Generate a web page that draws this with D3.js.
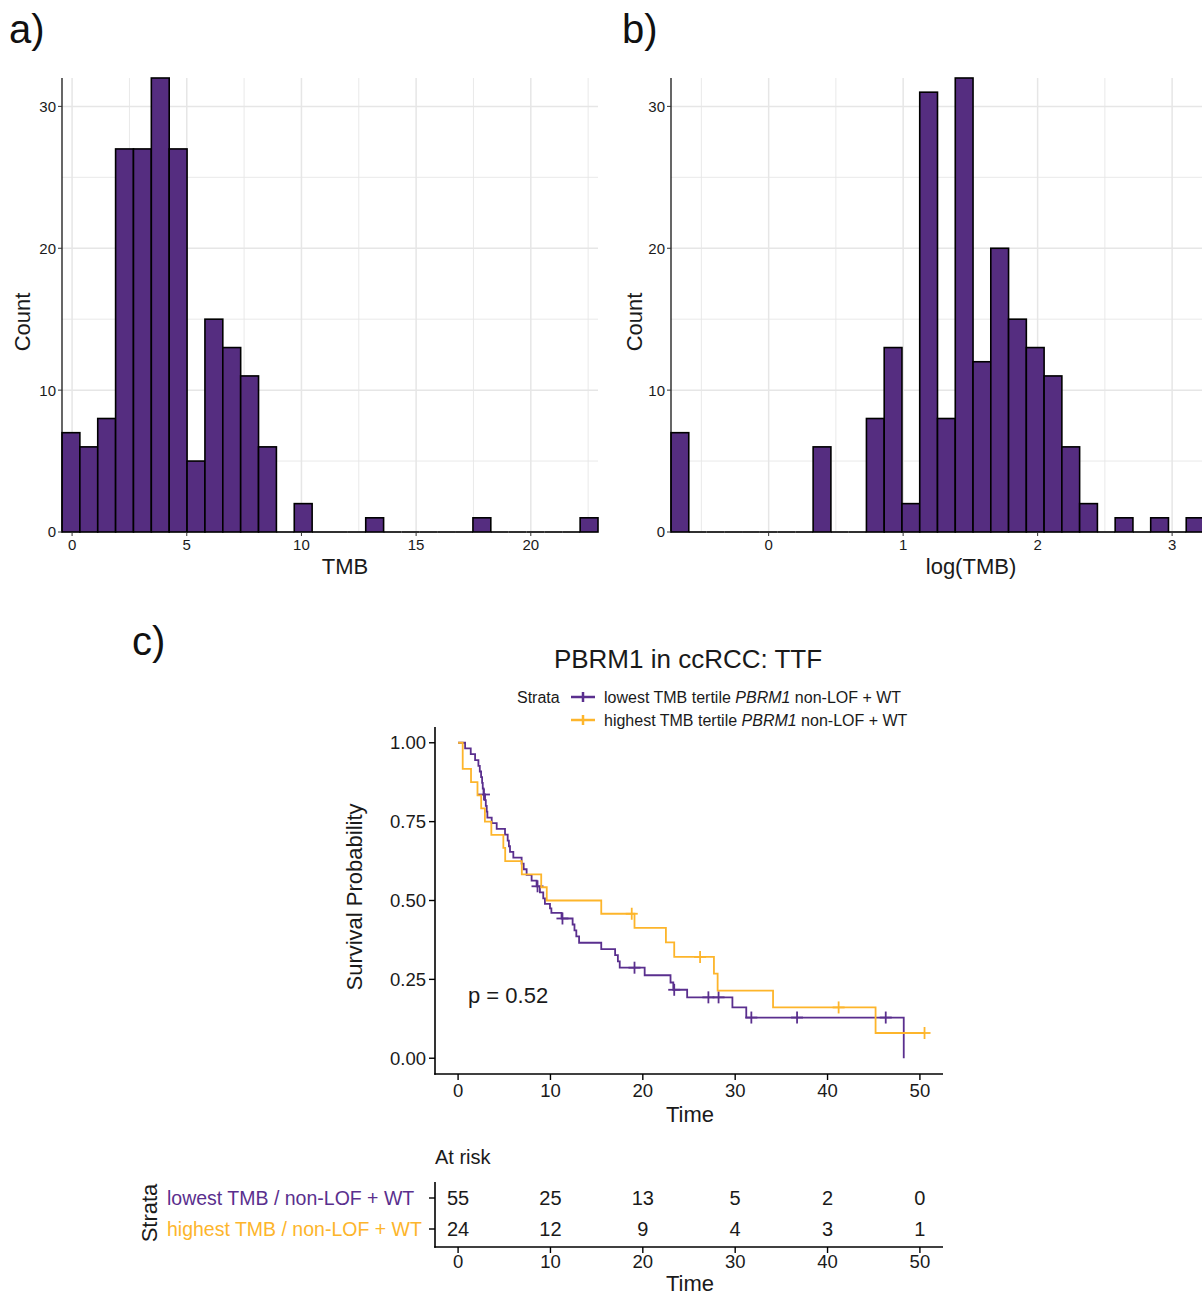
<!DOCTYPE html>
<html>
<head>
<meta charset="utf-8">
<script src="https://cdn.jsdelivr.net/npm/d3@7"></script>
<style>
  html, body { margin: 0; padding: 0; background: #fff; }
  svg { display: block; font-family: "Liberation Sans", Arial, Helvetica, sans-serif; }
</style>
</head>
<body>
<svg id="chart" width="1202" height="1297"></svg>
<script>
// ---------------- DATA ----------------
// Panel a: histogram of TMB (30 bins)
const tmbBinStart = -0.44;
const tmbBinWidth = 0.779;
const tmbCounts = [7, 6, 8, 27, 27, 32, 27, 5, 15, 13, 11, 6, 0, 2, 0, 0, 0, 1, 0, 0, 0, 0, 0, 1, 0, 0, 0, 0, 0, 1];
const tmbTicks = [0, 5, 10, 15, 20];
const tmbMinor = [2.5, 7.5, 12.5, 17.5, 22.5];

// Panel b: histogram of log(TMB) (30 bins)
const logBinStart = -0.726;
const logBinWidth = 0.1321;
const logCounts = [7, 0, 0, 0, 0, 0, 0, 0, 6, 0, 0, 8, 13, 2, 31, 8, 32, 12, 20, 15, 13, 11, 6, 2, 0, 1, 0, 1, 0, 1];
const logTicks = [0, 1, 2, 3];
const logMinor = [-0.5, 0.5, 1.5, 2.5];

const countTicks = [0, 10, 20, 30];
const countMinor = [5, 15, 25];

// Panel c: Kaplan-Meier step curves (time of step, survival after step)
const lowTime = [0, 0.76, 1.37, 1.84, 2.2, 2.35, 2.49, 2.6, 2.67, 2.75, 2.92, 3.0, 3.1, 3.17, 3.64, 4.18, 5.08, 5.37, 5.5, 5.62, 5.98,
                 6.88, 7.1, 7.42, 7.96, 8.5, 8.86, 9.22, 9.4, 9.95, 10.1, 11.2, 12.4, 12.6, 12.8, 13.1, 15.5, 17.0, 17.3, 17.5,
                 20.2, 23.0, 23.3, 24.8, 29.7, 31.2, 48.25];
const lowSurv = [1.0, 0.982, 0.964, 0.945, 0.927, 0.909, 0.891, 0.873, 0.855, 0.836, 0.818, 0.800, 0.782, 0.763, 0.745, 0.727, 0.709, 0.690, 0.672, 0.654, 0.636,
                 0.617, 0.599, 0.581, 0.563, 0.545, 0.526, 0.507, 0.489, 0.475, 0.461, 0.443, 0.424, 0.405, 0.386, 0.366, 0.346, 0.327, 0.307, 0.287,
                 0.263, 0.240, 0.217, 0.193, 0.161, 0.129, 0.0];
const lowCensor = [2.8, 8.6, 11.3, 19.1, 23.4, 27.1, 28.2, 31.75, 36.7, 46.3];

const highTime = [0, 0.5, 1.4, 2.1, 2.5, 2.9, 3.6, 4.9, 5.1, 6.9, 9.0, 9.6, 15.5, 19.1, 22.5, 23.4, 27.7, 28.1, 34.1, 45.2, 50.5];
const highSurv = [1.0, 0.917, 0.875, 0.833, 0.792, 0.750, 0.708, 0.667, 0.625, 0.583, 0.542, 0.500, 0.458, 0.413, 0.367, 0.321, 0.268, 0.214, 0.161, 0.080, 0.080];
const highCensor = [18.8, 26.2, 41.2, 50.5];

const kmTimeTicks = [0, 10, 20, 30, 40, 50];
const kmSurvTicks = [0, 0.25, 0.5, 0.75, 1.0];
const kmSurvLabels = ["0.00", "0.25", "0.50", "0.75", "1.00"];

const riskLow = [55, 25, 13, 5, 2, 0];
const riskHigh = [24, 12, 9, 4, 3, 1];
const strataLabels = ["lowest TMB / non-LOF + WT", "highest TMB / non-LOF + WT"];

// ---------------- STYLE ----------------
const barFill = "#552d80";
const purple = "#5a2f8e";
const orange = "#fdb52b";
const gridCol = "#e6e6e6";
const textCol = "#1a1a1a";

const svg = d3.select("#chart");

// ---------------- HISTOGRAMS ----------------
function histogram(opts) {
  const g = svg.append("g");
  const x = d3.scaleLinear()
    .domain([opts.binStart, opts.binStart + opts.binWidth * opts.counts.length])
    .range([opts.x0, opts.x1]);
  const y = d3.scaleLinear().domain([0, 32]).range([532, 78]);

  // grid
  g.selectAll(".mnx").data(opts.minor).join("line")
    .attr("x1", d => x(d)).attr("x2", d => x(d)).attr("y1", y(0)).attr("y2", y(32))
    .attr("stroke", gridCol).attr("stroke-width", 0.9);
  g.selectAll(".mny").data(countMinor).join("line")
    .attr("x1", opts.x0).attr("x2", opts.x1).attr("y1", d => y(d)).attr("y2", d => y(d))
    .attr("stroke", gridCol).attr("stroke-width", 0.9);
  g.selectAll(".mjx").data(opts.ticks).join("line")
    .attr("x1", d => x(d)).attr("x2", d => x(d)).attr("y1", y(0)).attr("y2", y(32))
    .attr("stroke", gridCol).attr("stroke-width", 1.5);
  g.selectAll(".mjy").data(countTicks).join("line")
    .attr("x1", opts.x0).attr("x2", opts.x1).attr("y1", d => y(d)).attr("y2", d => y(d))
    .attr("stroke", gridCol).attr("stroke-width", 1.5);

  const bx0 = i => x(opts.binStart + i * opts.binWidth);
  const bx1 = i => x(opts.binStart + (i + 1) * opts.binWidth);

  // empty bins: outline collapses to a line on the baseline
  const empties = opts.counts.map((d, i) => ({ d, i })).filter(o => o.d === 0);
  g.selectAll(".zero").data(empties).join("line")
    .attr("x1", o => bx0(o.i)).attr("x2", o => bx1(o.i))
    .attr("y1", y(0)).attr("y2", y(0))
    .attr("stroke", "#000").attr("stroke-width", 1.6);

  // bars
  const filled = opts.counts.map((d, i) => ({ d, i })).filter(o => o.d > 0);
  g.selectAll(".bar").data(filled).join("rect")
    .attr("x", o => bx0(o.i))
    .attr("width", o => bx1(o.i) - bx0(o.i))
    .attr("y", o => y(o.d))
    .attr("height", o => y(0) - y(o.d))
    .attr("fill", barFill)
    .attr("stroke", "#000")
    .attr("stroke-width", 1.6);

  // y axis
  g.append("line").attr("x1", opts.x0).attr("x2", opts.x0).attr("y1", 78).attr("y2", y(0) + 0.5)
    .attr("stroke", "#000").attr("stroke-width", 1.2);
  g.selectAll(".yt").data(countTicks).join("line")
    .attr("x1", opts.x0 - 4).attr("x2", opts.x0).attr("y1", d => y(d)).attr("y2", d => y(d))
    .attr("stroke", "#333").attr("stroke-width", 1);
  g.selectAll(".yl").data(countTicks).join("text")
    .attr("x", opts.x0 - 6).attr("y", d => y(d)).attr("dy", "0.36em")
    .attr("text-anchor", "end").attr("font-size", 15).attr("fill", textCol)
    .text(d => d);

  // x ticks
  g.selectAll(".xt").data(opts.ticks).join("line")
    .attr("x1", d => x(d)).attr("x2", d => x(d)).attr("y1", y(0)).attr("y2", y(0) + 4)
    .attr("stroke", "#333").attr("stroke-width", 1);
  g.selectAll(".xl").data(opts.ticks).join("text")
    .attr("x", d => x(d)).attr("y", 550)
    .attr("text-anchor", "middle").attr("font-size", 15).attr("fill", textCol)
    .text(d => d);

  // titles
  g.append("text").attr("x", opts.titleX).attr("y", 574).attr("text-anchor", "middle")
    .attr("font-size", 22).attr("fill", textCol).text(opts.xTitle);
  g.append("text").attr("transform", `translate(${opts.countX},322) rotate(-90)`)
    .attr("text-anchor", "middle").attr("font-size", 22).attr("fill", textCol).text("Count");
}

histogram({ binStart: tmbBinStart, binWidth: tmbBinWidth, counts: tmbCounts, ticks: tmbTicks, minor: tmbMinor,
            x0: 62, x1: 598, xTitle: "TMB", titleX: 345, countX: 30 });
histogram({ binStart: logBinStart, binWidth: logBinWidth, counts: logCounts, ticks: logTicks, minor: logMinor,
            x0: 671, x1: 1204, xTitle: "log(TMB)", titleX: 971, countX: 642 });

// panel labels
svg.append("text").attr("x", 9).attr("y", 43).attr("font-size", 40).attr("fill", "#111").text("a)");
svg.append("text").attr("x", 622).attr("y", 43).attr("font-size", 40).attr("fill", "#111").text("b)");
svg.append("text").attr("x", 132).attr("y", 655).attr("font-size", 40).attr("fill", "#111").text("c)");

// ---------------- KAPLAN-MEIER ----------------
const kx = d3.scaleLinear().domain([-2.5, 52.5]).range([435, 943]);
const ky = d3.scaleLinear().domain([-0.05, 1.05]).range([1074, 727]);

svg.append("text").attr("x", 688).attr("y", 668).attr("text-anchor", "middle")
  .attr("font-size", 26).attr("fill", textCol).text("PBRM1 in ccRCC: TTF");

// legend
const lg = svg.append("g");
lg.append("text").attr("x", 517).attr("y", 703).attr("font-size", 16).attr("fill", textCol).text("Strata");
const legendItems = [
  { col: purple, y: 697, pre: "lowest TMB tertile " },
  { col: orange, y: 720, pre: "highest TMB tertile " }
];
legendItems.forEach(it => {
  lg.append("line").attr("x1", 571).attr("x2", 595).attr("y1", it.y).attr("y2", it.y)
    .attr("stroke", it.col).attr("stroke-width", 2.5);
  lg.append("line").attr("x1", 583).attr("x2", 583).attr("y1", it.y - 5).attr("y2", it.y + 5)
    .attr("stroke", it.col).attr("stroke-width", 2.5);
  const t = lg.append("text").attr("x", 604).attr("y", it.y + 6).attr("font-size", 16).attr("fill", textCol);
  t.append("tspan").text(it.pre);
  t.append("tspan").attr("font-style", "italic").text("PBRM1");
  t.append("tspan").text(" non-LOF + WT");
});

// axes
const kg = svg.append("g");
kg.append("line").attr("x1", 435).attr("x2", 435).attr("y1", 727).attr("y2", 1074.8)
  .attr("stroke", "#000").attr("stroke-width", 1.6);
kg.append("line").attr("x1", 434.2).attr("x2", 943).attr("y1", 1074).attr("y2", 1074)
  .attr("stroke", "#000").attr("stroke-width", 1.6);
kg.selectAll(".kyt").data(kmSurvTicks).join("line")
  .attr("x1", 429).attr("x2", 435).attr("y1", d => ky(d)).attr("y2", d => ky(d))
  .attr("stroke", "#000").attr("stroke-width", 1.4);
kg.selectAll(".kyl").data(kmSurvTicks).join("text")
  .attr("x", 426).attr("y", d => ky(d)).attr("dy", "0.36em").attr("text-anchor", "end")
  .attr("font-size", 18.5).attr("fill", textCol).text((d, i) => kmSurvLabels[i]);
kg.selectAll(".kxt").data(kmTimeTicks).join("line")
  .attr("x1", d => kx(d)).attr("x2", d => kx(d)).attr("y1", 1074).attr("y2", 1080)
  .attr("stroke", "#000").attr("stroke-width", 1.4);
kg.selectAll(".kxl").data(kmTimeTicks).join("text")
  .attr("x", d => kx(d)).attr("y", 1097).attr("text-anchor", "middle")
  .attr("font-size", 18.5).attr("fill", textCol).text(d => d);
kg.append("text").attr("x", 690).attr("y", 1122).attr("text-anchor", "middle")
  .attr("font-size", 22).attr("fill", textCol).text("Time");
kg.append("text").attr("transform", "translate(362,897) rotate(-90)").attr("text-anchor", "middle")
  .attr("font-size", 22).attr("fill", textCol).text("Survival Probability");

// curves
const stepLine = d3.line().x(d => kx(d[0])).y(d => ky(d[1])).curve(d3.curveStepAfter);
function survAt(times, surv, t) {
  let s = surv[0];
  for (let i = 0; i < times.length; i++) { if (times[i] <= t) s = surv[i]; }
  return s;
}
function drawCurve(times, surv, censor, col) {
  const pts = times.map((t, i) => [t, surv[i]]);
  kg.append("path").attr("d", stepLine(pts)).attr("fill", "none")
    .attr("stroke", col).attr("stroke-width", 1.8);
  const cg = kg.append("g");
  censor.forEach(t => {
    const cx = kx(t), cy = ky(survAt(times, surv, t));
    cg.append("line").attr("x1", cx).attr("x2", cx).attr("y1", cy - 6).attr("y2", cy + 6)
      .attr("stroke", col).attr("stroke-width", 1.8);
    cg.append("line").attr("x1", cx - 6).attr("x2", cx + 6).attr("y1", cy).attr("y2", cy)
      .attr("stroke", col).attr("stroke-width", 1.8);
  });
}
drawCurve(lowTime, lowSurv, lowCensor, purple);
drawCurve(highTime, highSurv, highCensor, orange);

kg.append("text").attr("x", 468).attr("y", 1003).attr("font-size", 22).attr("fill", textCol).text("p = 0.52");

// ---------------- RISK TABLE ----------------
const rg = svg.append("g");
const rowY = [1198, 1229];
rg.append("text").attr("x", 435).attr("y", 1164).attr("font-size", 20).attr("fill", textCol).text("At risk");
rg.append("line").attr("x1", 435).attr("x2", 435).attr("y1", 1182).attr("y2", 1247.8)
  .attr("stroke", "#000").attr("stroke-width", 1.6);
rg.append("line").attr("x1", 434.2).attr("x2", 943).attr("y1", 1247).attr("y2", 1247)
  .attr("stroke", "#000").attr("stroke-width", 1.6);
rg.selectAll(".ryt").data(rowY).join("line")
  .attr("x1", 429).attr("x2", 435).attr("y1", d => d).attr("y2", d => d)
  .attr("stroke", "#000").attr("stroke-width", 1.4);
rg.selectAll(".rxt").data(kmTimeTicks).join("line")
  .attr("x1", d => kx(d)).attr("x2", d => kx(d)).attr("y1", 1247).attr("y2", 1253)
  .attr("stroke", "#000").attr("stroke-width", 1.4);
rg.selectAll(".rxl").data(kmTimeTicks).join("text")
  .attr("x", d => kx(d)).attr("y", 1268).attr("text-anchor", "middle")
  .attr("font-size", 18.5).attr("fill", textCol).text(d => d);
rg.append("text").attr("x", 690).attr("y", 1291).attr("text-anchor", "middle")
  .attr("font-size", 22).attr("fill", textCol).text("Time");

[riskLow, riskHigh].forEach((row, r) => {
  rg.selectAll(".rn" + r).data(row).join("text")
    .attr("x", (d, i) => kx(kmTimeTicks[i])).attr("y", rowY[r]).attr("dy", "0.36em")
    .attr("text-anchor", "middle").attr("font-size", 20).attr("fill", textCol).text(d => d);
});
rg.selectAll(".sl").data(strataLabels).join("text")
  .attr("x", 167).attr("y", (d, i) => rowY[i]).attr("dy", "0.36em")
  .attr("font-size", 19.5).attr("fill", (d, i) => i === 0 ? purple : orange).text(d => d);
rg.append("text").attr("transform", "translate(157,1213) rotate(-90)").attr("text-anchor", "middle")
  .attr("font-size", 22).attr("fill", textCol).text("Strata");
</script>
</body>
</html>
